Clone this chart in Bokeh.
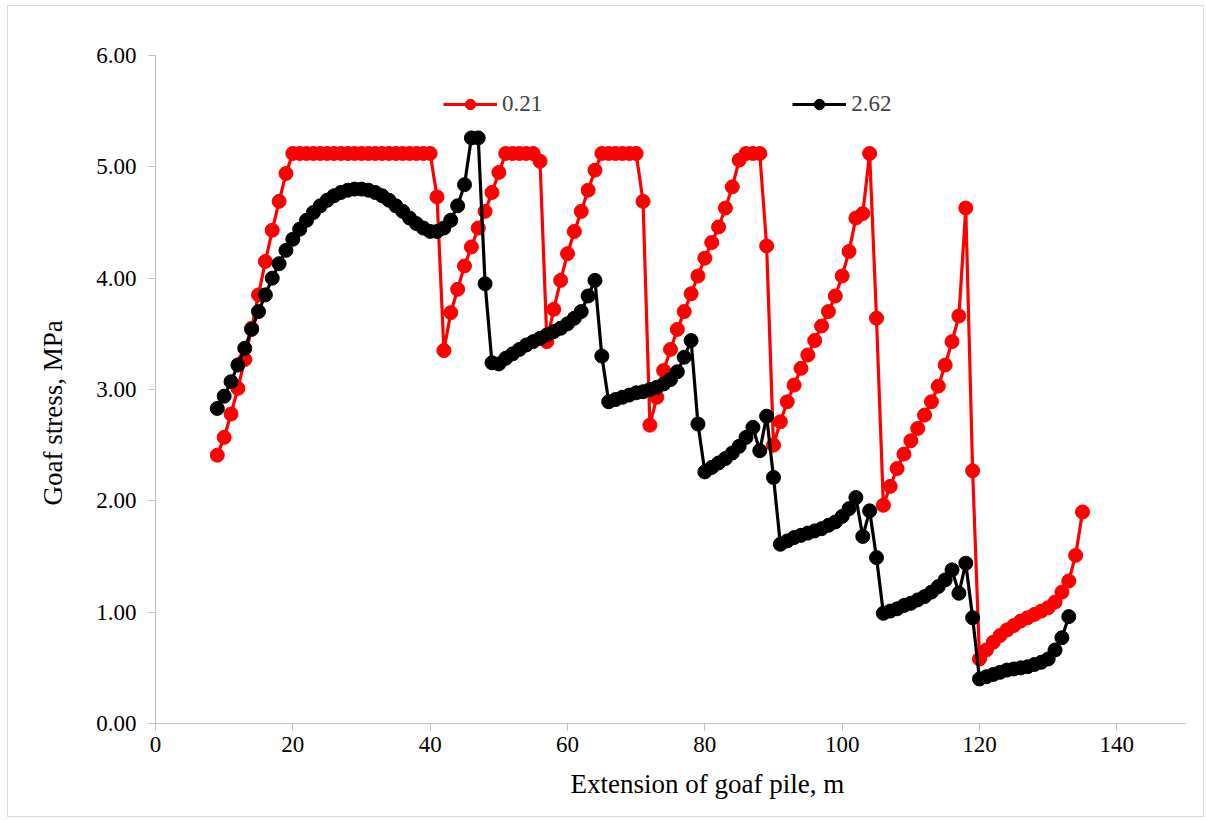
from bokeh.plotting import figure
from bokeh.models import Legend, LegendItem, FixedTicker, PrintfTickFormatter, Range1d, Title
from bokeh.embed import file_html
from bokeh.resources import INLINE

# ---- data ----
x_red = list(range(9, 136))
y_red = [2.41, 2.57, 2.78, 3.01, 3.27, 3.55, 3.85, 4.15, 4.43, 4.69, 4.94,
         5.12, 5.12, 5.12, 5.12, 5.12, 5.12, 5.12, 5.12, 5.12, 5.12, 5.12,
         5.12, 5.12, 5.12, 5.12, 5.12, 5.12, 5.12, 5.12, 5.12, 5.12,
         4.73, 3.35, 3.69, 3.90, 4.11, 4.28, 4.45, 4.60, 4.77, 4.95,
         5.12, 5.12, 5.12, 5.12, 5.12,
         5.05, 3.43, 3.72, 3.98, 4.22, 4.42, 4.60, 4.79, 4.97,
         5.12, 5.12, 5.12, 5.12, 5.12, 5.12,
         4.69, 2.68, 2.93, 3.17, 3.36, 3.54, 3.70, 3.86, 4.02, 4.18, 4.32, 4.46, 4.63, 4.82, 5.06,
         5.12, 5.12, 5.12,
         4.29, 2.50, 2.71, 2.89, 3.04, 3.19, 3.31, 3.44, 3.57, 3.70, 3.84, 4.02, 4.24, 4.54, 4.58,
         5.12, 3.64, 1.96, 2.13, 2.29, 2.42, 2.54, 2.65, 2.77, 2.89, 3.03, 3.22, 3.43, 3.66,
         4.63, 2.27, 0.58, 0.66, 0.73, 0.79, 0.84, 0.88, 0.92, 0.95, 0.98, 1.01, 1.04, 1.09,
         1.18, 1.28, 1.51, 1.90]

x_black = list(range(9, 134))
y_black = [2.83, 2.94, 3.07, 3.22, 3.37, 3.54, 3.70, 3.85, 4.00, 4.13, 4.25,
           4.35, 4.44, 4.52, 4.59, 4.65, 4.70, 4.74, 4.77, 4.79, 4.80,
           4.80, 4.79, 4.77, 4.74, 4.70, 4.65, 4.60, 4.54, 4.49, 4.45,
           4.42, 4.42, 4.45, 4.52, 4.65, 4.84, 5.26, 5.26, 3.95,
           3.24, 3.23, 3.28, 3.32, 3.36, 3.40, 3.43, 3.46, 3.49, 3.52, 3.55, 3.59, 3.64, 3.70, 3.84, 3.98,
           3.30, 2.89, 2.91, 2.93, 2.95, 2.97, 2.98, 3.00, 3.02, 3.05, 3.09, 3.16, 3.29, 3.44,
           2.69, 2.26, 2.30, 2.34, 2.38, 2.43, 2.49, 2.57, 2.66, 2.45, 2.76, 2.21,
           1.61, 1.64, 1.67, 1.69, 1.71, 1.73, 1.75, 1.78, 1.81, 1.86, 1.93, 2.03, 1.68, 1.91, 1.49,
           0.99, 1.01, 1.03, 1.06, 1.08, 1.11, 1.14, 1.18, 1.23, 1.29, 1.38, 1.17, 1.44, 0.95,
           0.40, 0.42, 0.44, 0.46, 0.48, 0.49, 0.50, 0.51, 0.53, 0.55, 0.58, 0.66, 0.77, 0.96]

series_labels = ["0.21", "2.62"]
x_ticks = [0, 20, 40, 60, 80, 100, 120, 140]
y_ticks = [0, 1, 2, 3, 4, 5, 6]
x_title = "Extension of goaf pile, m"
y_title = "Goaf stress, MPa"

FONT = "Liberation Serif"
AXIS_COLOR = "#bfbfbf"

p = figure(width=1197, height=812, x_range=Range1d(0, 150), y_range=Range1d(0, 6),
           output_backend="svg", toolbar_location=None,
           min_border_left=147, min_border_right=20, min_border_top=49, min_border_bottom=95)
p.styles = {"border": "1px solid #d9d9d9", "margin-left": "7px", "margin-top": "5px"}
p.outline_line_color = None
p.xgrid.visible = False
p.ygrid.visible = False
p.background_fill_color = "white"

r_line = p.line(x_red, y_red, line_color="#ff0000", line_width=3.2)
r_pts = p.scatter(x_red, y_red, size=14, fill_color="#ff0000", line_color="#ff0000")
b_line = p.line(x_black, y_black, line_color="#000000", line_width=3.2)
b_pts = p.scatter(x_black, y_black, size=14, fill_color="#000000", line_color="#000000")

for ax in (p.xaxis[0], p.yaxis[0]):
    ax.axis_line_color = AXIS_COLOR
    ax.major_tick_line_color = AXIS_COLOR
    ax.minor_tick_line_color = None
    ax.major_tick_in = 0
    ax.major_tick_out = 7
    ax.major_label_text_font = FONT
    ax.major_label_text_font_size = "23px"
    ax.major_label_text_color = "black"

p.xaxis.ticker = FixedTicker(ticks=x_ticks)
p.yaxis.ticker = FixedTicker(ticks=y_ticks)
p.yaxis.formatter = PrintfTickFormatter(format="%.2f")
p.xaxis.major_label_standoff = 6
p.yaxis.major_label_standoff = 12

xt = Title(text=x_title, align="left", offset=415, standoff=25,
           text_font=FONT, text_font_size="27px", text_font_style="normal", text_color="black")
p.add_layout(xt, "below")
yt = Title(text=y_title, align="left", offset=218, standoff=52,
           text_font=FONT, text_font_size="27px", text_font_style="normal", text_color="black")
p.add_layout(yt, "left")

legend = Legend(items=[LegendItem(label=series_labels[0], renderers=[r_line, r_pts]),
                       LegendItem(label=series_labels[1], renderers=[b_line, b_pts])],
                orientation="horizontal", location=(288, 606),
                padding=0, margin=0, spacing=250, glyph_width=54, glyph_height=26,
                label_standoff=5, border_line_alpha=0, background_fill_alpha=0,
                label_text_font=FONT, label_text_font_size="23px")
p.add_layout(legend)

open("out.html", "w").write(file_html(p, INLINE))
